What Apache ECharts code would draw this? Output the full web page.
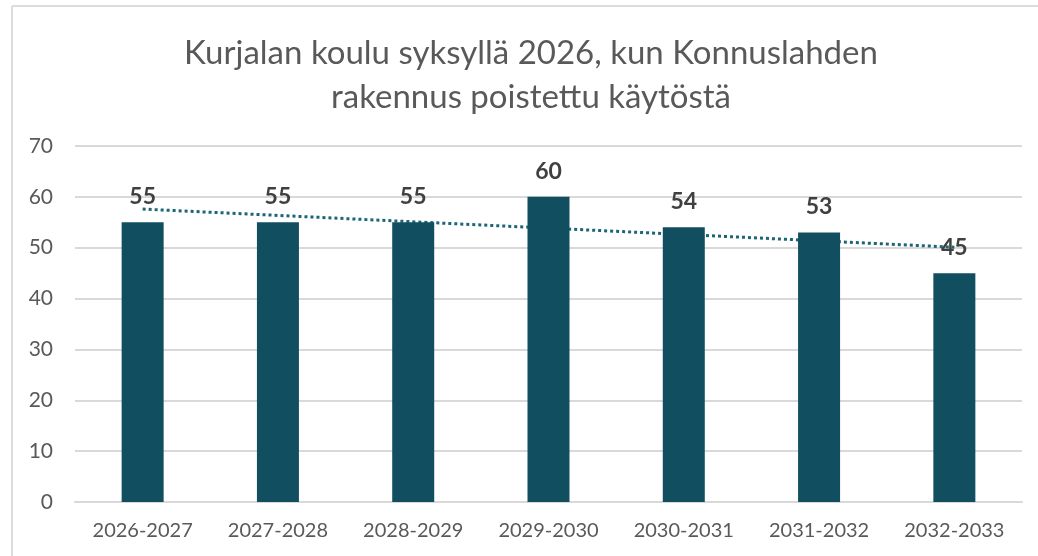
<!DOCTYPE html>
<html>
<head>
<meta charset="utf-8">
<script src="https://cdn.jsdelivr.net/npm/echarts@6/dist/echarts.min.js"></script>
<style>
html,body{margin:0;padding:0;background:#fff;}
#chart{width:1038px;height:556px;}
</style>
</head>
<body>
<div id="chart"></div>
<script>
const titleLines = ['Kurjalan koulu syksyllä 2026, kun Konnuslahden', 'rakennus poistettu käytöstä'];
const categories = ['2026-2027','2027-2028','2028-2029','2029-2030','2030-2031','2031-2032','2032-2033'];
const values = [55, 55, 55, 60, 54, 53, 45];
// linear trendline endpoints (first and last category)
const trend = [57.6, null, null, null, null, null, 50.1];
const yTicks = {min: 0, max: 70, interval: 10};

const chart = echarts.init(document.getElementById('chart'));
chart.setOption({
  animation: false,
  backgroundColor: '#ffffff',
  graphic: [
    {type: 'line', shape: {x1: 12, y1: 6, x2: 1038, y2: 6}, style: {stroke: '#dcdcdc', lineWidth: 2}},
    {type: 'line', shape: {x1: 12, y1: 6, x2: 12, y2: 556}, style: {stroke: '#dcdcdc', lineWidth: 2}},
    {type: 'text', x: 531, y: 53, style: {text: titleLines[0], align: 'center', verticalAlign: 'middle', fontFamily: 'Lato', fontSize: 33, fill: '#595959'}},
    {type: 'text', x: 531, y: 97, style: {text: titleLines[1], align: 'center', verticalAlign: 'middle', fontFamily: 'Lato', fontSize: 33, fill: '#595959'}}
  ],
  grid: {left: 75, right: 16, top: 146, bottom: 54, containLabel: false},
  xAxis: {
    type: 'category',
    data: categories,
    axisLine: {show: true, lineStyle: {color: '#d9d9d9', width: 2}},
    axisTick: {show: false},
    axisLabel: {interval: 0, color: '#595959', fontFamily: 'Lato', fontSize: 20, margin: 19}
  },
  yAxis: {
    type: 'value',
    min: yTicks.min, max: yTicks.max, interval: yTicks.interval,
    axisLine: {show: false},
    axisTick: {show: false},
    splitLine: {lineStyle: {color: '#d9d9d9', width: 2}},
    axisLabel: {color: '#595959', fontFamily: 'Lato', fontSize: 21, margin: 22}
  },
  series: [
    {
      type: 'line',
      data: trend,
      connectNulls: true,
      symbol: 'none',
      z: 1,
      lineStyle: {color: '#1b6577', width: 3, type: 'dotted'}
    },
    {
      type: 'bar',
      data: values,
      barWidth: 42,
      z: 2,
      itemStyle: {color: '#104e60'},
      label: {show: true, position: 'top', distance: 14, fontFamily: 'Lato', fontWeight: 'bold', fontSize: 23, color: '#404040'}
    }
  ]
});
</script>
</body>
</html>
